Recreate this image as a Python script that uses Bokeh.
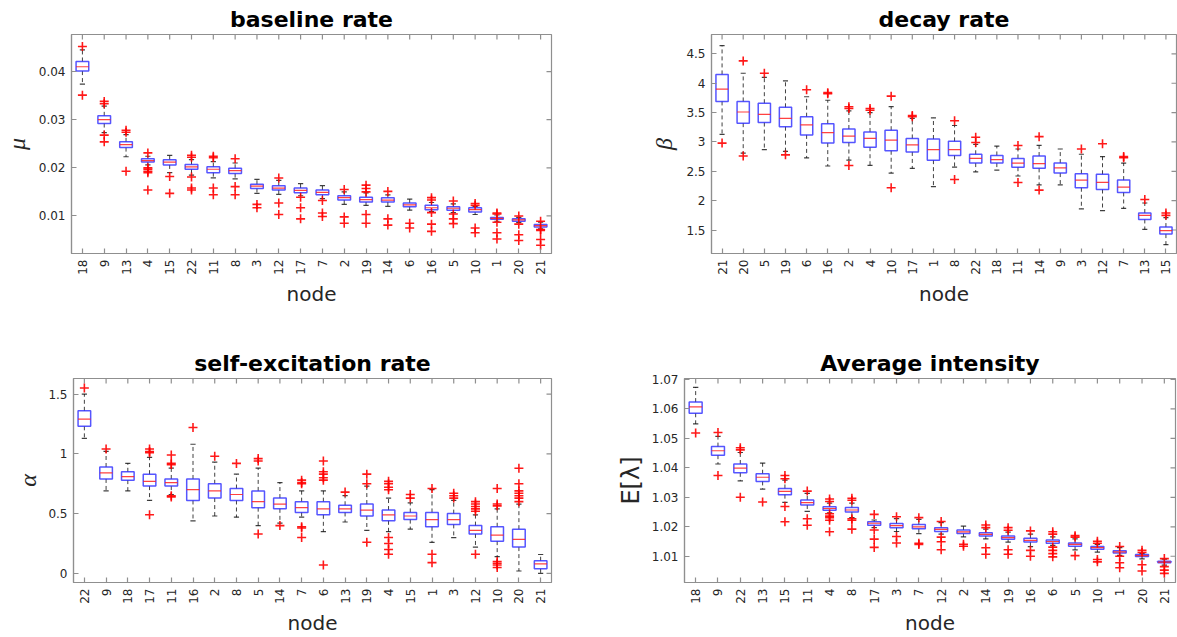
import numpy as np
from math import pi
from bokeh.plotting import figure
from bokeh.layouts import column, row
from bokeh.models import FixedTicker, Range1d
from bokeh.embed import file_html
from bokeh.resources import INLINE

# ---------------- baseline rate (mu) ----------------
mu_nodes = [18, 9, 13, 4, 15, 22, 11, 8, 3, 12, 17, 7, 2, 19, 14, 6, 16, 5, 10, 1, 20, 21]
mu_q3 = [0.0421, 0.0308, 0.0254, 0.0219, 0.0217, 0.0207, 0.0202, 0.0199, 0.0166, 0.0163, 0.0158,
         0.0154, 0.0142, 0.0139, 0.0138, 0.0127, 0.0122, 0.0119, 0.0117, 0.0097, 0.0094, 0.0082]
mu_med = [0.0410, 0.0300, 0.0248, 0.0215, 0.0212, 0.0202, 0.0197, 0.0194, 0.0162, 0.0158, 0.0153,
          0.0149, 0.0138, 0.0134, 0.0133, 0.0123, 0.0117, 0.0116, 0.0113, 0.0095, 0.0092, 0.0080]
mu_q1 = [0.0401, 0.0292, 0.0242, 0.0212, 0.0206, 0.0197, 0.0190, 0.0188, 0.0157, 0.0154, 0.0148,
         0.0144, 0.0133, 0.0129, 0.0129, 0.0119, 0.0113, 0.0112, 0.0108, 0.0093, 0.0089, 0.0077]
mu_hi = [0.0445, 0.0328, 0.0269, 0.0224, 0.0226, 0.0217, 0.0213, 0.0210, 0.0176, 0.0174, 0.0167,
         0.0163, 0.0150, 0.0148, 0.0144, 0.0135, 0.0128, 0.0125, 0.0120, 0.0102, 0.0097, 0.0087]
mu_lo = [0.0374, 0.0273, 0.0223, 0.0206, 0.0190, 0.0185, 0.0179, 0.0177, 0.0147, 0.0145, 0.0142,
         0.0136, 0.0124, 0.0122, 0.0120, 0.0112, 0.0109, 0.0107, 0.0103, 0.0089, 0.0086, 0.0073]
mu_out = [[0.0452, 0.0351], [0.0338, 0.0333, 0.0268, 0.0254], [0.0278, 0.0274, 0.0193],
          [0.0231, 0.0200, 0.0197, 0.0193, 0.0190, 0.0154], [0.0182, 0.0147],
          [0.0226, 0.0222, 0.0181, 0.0158, 0.0154], [0.0224, 0.0221, 0.0158, 0.0144],
          [0.0219, 0.0161, 0.0144], [0.0124, 0.0117], [0.0179, 0.0127, 0.0103],
          [0.0139, 0.0117, 0.0094], [0.0132, 0.0106, 0.0099], [0.0155, 0.0098, 0.0085],
          [0.0164, 0.0157, 0.0150, 0.0103, 0.0085], [0.0151, 0.0094, 0.0081], [0.0085, 0.0075],
          [0.0138, 0.0133, 0.0107, 0.0083, 0.0068], [0.0131, 0.0104, 0.0094, 0.0084],
          [0.0126, 0.0122, 0.0075, 0.0065], [0.0106, 0.0104, 0.0087, 0.0065, 0.0052],
          [0.0100, 0.0083, 0.0061, 0.0049], [0.0089, 0.0072, 0.0070, 0.0051, 0.0039]]
mu_ticks = [0.01, 0.02, 0.03, 0.04]
mu_tick_labels = ["0.01", "0.02", "0.03", "0.04"]

# ---------------- decay rate (beta) ----------------
beta_nodes = [21, 20, 5, 19, 6, 16, 2, 4, 10, 17, 1, 8, 22, 18, 11, 14, 9, 3, 12, 7, 13, 15]
beta_q3 = [4.15, 3.69, 3.66, 3.59, 3.43, 3.31, 3.22, 3.17, 3.20, 3.06, 3.05, 3.01, 2.79, 2.77,
           2.72, 2.76, 2.64, 2.46, 2.45, 2.35, 1.79, 1.55]
beta_med = [3.90, 3.51, 3.47, 3.40, 3.29, 3.16, 3.10, 3.06, 3.03, 2.95, 2.87, 2.87, 2.72, 2.70,
            2.64, 2.63, 2.56, 2.35, 2.31, 2.23, 1.75, 1.49]
beta_q1 = [3.69, 3.32, 3.33, 3.26, 3.12, 2.98, 2.99, 2.91, 2.85, 2.83, 2.69, 2.77, 2.64, 2.64,
           2.57, 2.55, 2.47, 2.22, 2.19, 2.14, 1.68, 1.43]
beta_hi = [4.64, 4.17, 4.10, 4.04, 3.77, 3.71, 3.53, 3.50, 3.60, 3.40, 3.41, 3.28, 2.96, 2.93,
           2.88, 2.94, 2.88, 2.79, 2.75, 2.64, 1.96, 1.71]
beta_lo = [3.13, 2.81, 2.87, 2.84, 2.73, 2.59, 2.69, 2.60, 2.47, 2.55, 2.24, 2.57, 2.49, 2.52,
           2.42, 2.27, 2.27, 1.86, 1.83, 1.87, 1.51, 1.25]
beta_out = [[2.98], [4.38, 2.76], [4.17], [2.78], [3.89], [3.84, 3.82], [3.60, 3.57, 2.60],
            [3.57, 3.54], [3.78, 2.22], [3.45, 3.43], [], [3.36, 2.36], [3.08, 2.99], [],
            [2.94, 2.31], [3.09, 2.18], [], [2.88], [2.97], [2.75, 2.73], [2.02], [1.79, 1.75]]
beta_ticks = [1.5, 2, 2.5, 3, 3.5, 4, 4.5]
beta_tick_labels = ["1.5", "2", "2.5", "3", "3.5", "4", "4.5"]

# ---------------- self-excitation rate (alpha) ----------------
alpha_nodes = [22, 9, 18, 17, 11, 16, 2, 8, 5, 14, 7, 6, 13, 19, 4, 15, 1, 3, 12, 10, 20, 21]
alpha_q3 = [1.36, 0.89, 0.85, 0.83, 0.79, 0.79, 0.75, 0.71, 0.69, 0.63, 0.60, 0.60, 0.57, 0.58,
            0.53, 0.51, 0.51, 0.50, 0.40, 0.39, 0.37, 0.106]
alpha_med = [1.29, 0.84, 0.81, 0.77, 0.76, 0.70, 0.69, 0.66, 0.60, 0.58, 0.55, 0.54, 0.54, 0.53,
             0.49, 0.48, 0.45, 0.45, 0.36, 0.32, 0.285, 0.079]
alpha_q1 = [1.23, 0.79, 0.78, 0.73, 0.73, 0.61, 0.63, 0.61, 0.55, 0.54, 0.51, 0.49, 0.51, 0.48,
            0.44, 0.45, 0.39, 0.41, 0.33, 0.27, 0.22, 0.038]
alpha_hi = [1.50, 1.02, 0.92, 0.97, 0.88, 1.08, 0.93, 0.83, 0.88, 0.76, 0.69, 0.69, 0.65, 0.73,
            0.63, 0.59, 0.70, 0.61, 0.49, 0.54, 0.58, 0.158]
alpha_lo = [1.13, 0.69, 0.69, 0.61, 0.66, 0.44, 0.48, 0.47, 0.40, 0.42, 0.47, 0.35, 0.43, 0.36,
            0.35, 0.37, 0.26, 0.30, 0.22, 0.14, 0.02, 0.0]
alpha_out = [[1.55], [1.04], [], [1.04, 1.02, 1.01, 0.49], [0.99, 0.92, 0.91, 0.65, 0.64],
             [1.22], [0.98], [0.92], [0.96, 0.94, 0.33], [0.40],
             [0.78, 0.76, 0.75, 0.39, 0.38, 0.30], [0.94, 0.85, 0.83, 0.80, 0.78, 0.07],
             [0.68], [0.83, 0.75, 0.26], [0.77, 0.75, 0.72, 0.70, 0.30, 0.25, 0.20, 0.16],
             [0.66, 0.63], [0.71, 0.16, 0.09], [0.67, 0.65, 0.63],
             [0.60, 0.58, 0.56, 0.54, 0.52, 0.16], [0.71, 0.58, 0.565, 0.10, 0.085, 0.07, 0.05],
             [0.88, 0.75, 0.69, 0.67, 0.65, 0.63, 0.60], []]
alpha_ticks = [0, 0.5, 1, 1.5]
alpha_tick_labels = ["0", "0.5", "1", "1.5"]

# ---------------- average intensity E[lambda] ----------------
lam_nodes = [18, 9, 22, 13, 15, 11, 4, 8, 17, 3, 7, 12, 2, 14, 19, 16, 6, 5, 10, 1, 20, 21]
lam_q3 = [1.0623, 1.0472, 1.0413, 1.0380, 1.0330, 1.0291, 1.0268, 1.0265, 1.0217, 1.0211, 1.0208,
          1.0197, 1.0189, 1.0180, 1.0169, 1.0161, 1.0155, 1.0145, 1.0133, 1.0119, 1.0106, 1.0083]
lam_med = [1.0607, 1.0458, 1.0399, 1.0368, 1.0320, 1.0282, 1.0262, 1.0257, 1.0212, 1.0204, 1.0200,
           1.0191, 1.0183, 1.0174, 1.0163, 1.0154, 1.0150, 1.0140, 1.0129, 1.0115, 1.0102, 1.0080]
lam_q1 = [1.0585, 1.0443, 1.0383, 1.0354, 1.0309, 1.0274, 1.0256, 1.0250, 1.0205, 1.0197, 1.0193,
          1.0184, 1.0177, 1.0169, 1.0158, 1.0148, 1.0144, 1.0134, 1.0124, 1.0111, 1.0099, 1.0078]
lam_hi = [1.0673, 1.0507, 1.0452, 1.0416, 1.0358, 1.0313, 1.0280, 1.0280, 1.0223, 1.0228, 1.0225,
          1.0214, 1.0202, 1.0192, 1.0182, 1.0175, 1.0166, 1.0159, 1.0140, 1.0129, 1.0109, 1.0090]
lam_lo = [1.0549, 1.0413, 1.0356, 1.0328, 1.0283, 1.0252, 1.0247, 1.0231, 1.0197, 1.0184, 1.0177,
          1.0175, 1.0166, 1.0159, 1.0148, 1.0133, 1.0137, 1.0122, 1.0114, 1.0103, 1.0091, 1.0070]
lam_out = [[1.0518], [1.0520, 1.0374], [1.0468, 1.0461, 1.0300], [1.0284],
           [1.0374, 1.0363, 1.0269, 1.0217], [1.0321, 1.0227, 1.0205],
           [1.0294, 1.0286, 1.0244, 1.0236, 1.0231, 1.0222, 1.0183],
           [1.0297, 1.0290, 1.0227, 1.0222, 1.0192], [1.0242, 1.0189, 1.0158, 1.0130],
           [1.0234, 1.0167, 1.0145], [1.0231, 1.0144, 1.0140], [1.0218, 1.0165, 1.0149, 1.0122],
           [1.0141, 1.0134], [1.0206, 1.0197, 1.0129, 1.0107], [1.0197, 1.0188, 1.0122, 1.0107],
           [1.0186, 1.0120, 1.0100], [1.0183, 1.0175, 1.0131, 1.0120, 1.0109, 1.0098],
           [1.0170, 1.0165, 1.0102], [1.0151, 1.0144, 1.0089, 1.0081],
           [1.0133, 1.0100, 1.0078, 1.0061], [1.0120, 1.0113, 1.0071, 1.0050],
           [1.0092, 1.0065, 1.0053, 1.0042]]
lam_ticks = [1.01, 1.02, 1.03, 1.04, 1.05, 1.06, 1.07]
lam_tick_labels = ["1.01", "1.02", "1.03", "1.04", "1.05", "1.06", "1.07"]

FRAME = "#8f8f8f"
TEXT = "#262626"
BOX_W = 0.58
CAP_W = 0.24
TICK_LEN = 5


def style_axis(ax):
    ax.axis_line_color = FRAME
    ax.axis_line_width = 1.2
    ax.major_tick_line_color = FRAME
    ax.major_tick_line_width = 1.2
    ax.major_tick_in = TICK_LEN
    ax.major_tick_out = 0
    ax.minor_tick_line_color = None
    ax.major_label_text_font = "DejaVu Sans"
    ax.major_label_text_font_size = "12px"
    ax.major_label_text_color = TEXT
    ax.major_label_standoff = 6


def panel(title, nodes, q1, med, q3, lo, hi, outliers, yr, yticks, ylabels, ylabel,
          label_font, label_style, label_size, label_gap, width, height, bl, br, bt, bb):
    n = len(nodes)
    x = np.arange(1, n + 1, dtype=float)
    p = figure(width=width, height=height, x_range=Range1d(0.5, n + 0.5),
               y_range=Range1d(*yr), output_backend="svg", toolbar_location=None,
               min_border_left=bl, min_border_right=br, min_border_top=bt,
               min_border_bottom=bb, title=title)
    p.title.text_font = "DejaVu Sans"
    p.title.text_font_size = "22px"
    p.title.text_font_style = "bold"
    p.title.text_color = "black"
    p.title.align = "center"
    p.title.standoff = 6
    p.outline_line_color = FRAME
    p.outline_line_width = 1.2
    p.xgrid.visible = False
    p.ygrid.visible = False
    p.background_fill_color = "white"
    p.border_fill_color = "white"

    xa = p.xaxis[0]
    xa.ticker = FixedTicker(ticks=list(x))
    xa.major_label_overrides = {int(i): str(nd) for i, nd in zip(x, nodes)}
    xa.major_label_orientation = pi / 2
    xa.axis_label = "node"
    xa.axis_label_text_font = "DejaVu Sans"
    xa.axis_label_text_font_size = "20px"
    xa.axis_label_text_font_style = "normal"
    xa.axis_label_text_color = TEXT
    xa.axis_label_standoff = 4
    style_axis(xa)

    ya = p.yaxis[0]
    ya.ticker = FixedTicker(ticks=yticks)
    ya.major_label_overrides = {v: s for v, s in zip(yticks, ylabels)}
    ya.axis_label = ylabel
    ya.axis_label_text_font = label_font
    ya.axis_label_text_font_style = label_style
    ya.axis_label_text_font_size = label_size
    ya.axis_label_text_color = TEXT
    ya.axis_label_standoff = label_gap
    style_axis(ya)

    # mirrored tick marks along the top and right edges of the frame
    p.ray(x=x, y=[yr[1]] * n, length=TICK_LEN, length_units="screen", angle=-pi / 2,
          line_color=FRAME, line_width=1.2)
    p.ray(x=[n + 0.5] * len(yticks), y=yticks, length=TICK_LEN, length_units="screen",
          angle=pi, line_color=FRAME, line_width=1.2)

    q1 = np.array(q1); q3 = np.array(q3); med = np.array(med)
    lo = np.array(lo); hi = np.array(hi)

    # whiskers (dashed) and their end caps
    p.segment(x0=x, y0=q3, x1=x, y1=hi, line_color="black", line_alpha=0.75,
              line_width=1, line_dash="4 3")
    p.segment(x0=x, y0=q1, x1=x, y1=lo, line_color="black", line_alpha=0.75,
              line_width=1, line_dash="4 3")
    p.segment(x0=x - CAP_W / 2, y0=hi, x1=x + CAP_W / 2, y1=hi, line_color="black",
              line_alpha=0.75, line_width=1.2)
    p.segment(x0=x - CAP_W / 2, y0=lo, x1=x + CAP_W / 2, y1=lo, line_color="black",
              line_alpha=0.75, line_width=1.2)

    # boxes and medians
    p.quad(left=x - BOX_W / 2, right=x + BOX_W / 2, bottom=q1, top=q3, fill_color=None,
           line_color="#2b2bff", line_alpha=0.8, line_width=1.5)
    p.segment(x0=x - BOX_W / 2, y0=med, x1=x + BOX_W / 2, y1=med, line_color="#ff2020",
              line_alpha=0.85, line_width=1.2)

    # outliers
    ox = [xi for xi, vals in zip(x, outliers) for _ in vals]
    oy = [v for vals in outliers for v in vals]
    p.scatter(ox, oy, marker="cross", size=9, line_color="#ff0000", line_width=1.6,
              line_alpha=0.9)
    return p


p1 = panel("baseline rate", mu_nodes, mu_q1, mu_med, mu_q3, mu_lo, mu_hi, mu_out,
           (0.0022, 0.0477), mu_ticks, mu_tick_labels, "μ", "Liberation Serif", "italic", "24px",
           6, 600, 318, 65, 49, 34, 65)
p2 = panel("decay rate", beta_nodes, beta_q1, beta_med, beta_q3, beta_lo, beta_hi, beta_out,
           (1.10, 4.83), beta_ticks, beta_tick_labels, "β", "Liberation Serif", "italic", "24px",
           6, 577, 318, 111, 1, 34, 65)
p3 = panel("self-excitation rate", alpha_nodes, alpha_q1, alpha_med, alpha_q3, alpha_lo,
           alpha_hi, alpha_out, (-0.076, 1.63), alpha_ticks, alpha_tick_labels, "α",
           "Liberation Serif", "italic", "24px", 4, 600, 319, 73, 49, 60, 50)
p4 = panel("Average intensity", lam_nodes, lam_q1, lam_med, lam_q3, lam_lo, lam_hi, lam_out,
           (1.0011, 1.0703), lam_ticks, lam_tick_labels, "E[λ]", "DejaVu Sans", "normal", "24px",
           4, 577, 319, 84, 2, 60, 50)

layout = column(row(p1, p2), row(p3, p4))
open("out.html", "w").write(file_html(layout, INLINE))
